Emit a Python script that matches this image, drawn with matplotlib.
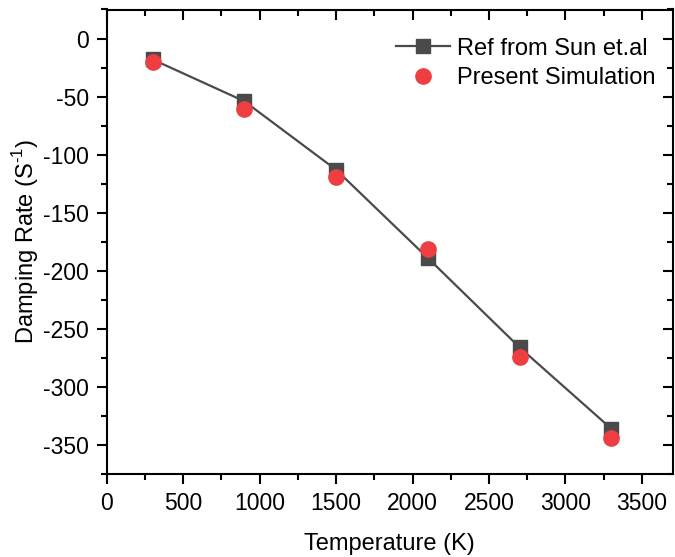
import matplotlib
matplotlib.use("Agg")
import matplotlib.pyplot as plt
from matplotlib.ticker import MultipleLocator

plt.rcParams['font.family'] = ['Liberation Sans', 'DejaVu Sans']
plt.rcParams['axes.unicode_minus'] = False
plt.rcParams['mathtext.fontset'] = 'custom'
plt.rcParams['mathtext.rm'] = 'Liberation Sans'

temperature = [300, 900, 1500, 2100, 2700, 3300]
ref_sun = [-18, -54, -113, -189, -266, -336]
present_sim = [-20, -61, -119, -181, -274, -344]

fig = plt.figure(figsize=(6.75, 5.57), dpi=100)
ax = fig.add_axes([106.7/675, 1-474/557, (672.5-106.7)/675, (474-9.5)/557])

ax.plot(temperature, ref_sun, color='#4a4a4a', lw=1.6, marker='s', ms=9.5,
        markerfacecolor='#4a4a4a', markeredgecolor='#4a4a4a', label='Ref from Sun et.al', zorder=2)
ax.plot(temperature, present_sim, ls='none', marker='o', ms=11,
        markerfacecolor='#ef3e42', markeredgecolor='#ef3e42', label='Present Simulation', zorder=3)

ax.set_xlim(0, 3700)
ax.set_ylim(-375, 25)
ax.xaxis.set_major_locator(MultipleLocator(500))
ax.xaxis.set_minor_locator(MultipleLocator(250))
ax.yaxis.set_major_locator(MultipleLocator(50))
ax.yaxis.set_minor_locator(MultipleLocator(25))

for s in ax.spines.values():
    s.set_linewidth(1.5)

ax.tick_params(which='both', labelsize=16.5, width=1.5, direction='out',
               top=True, right=True)
ax.tick_params(which='major', length=7)
ax.tick_params(which='minor', length=4)
ax.tick_params(axis='y', which='major', pad=6)
ax.tick_params(axis='x', which='major', pad=6)
# top/right ticks point inward
for t in ax.xaxis.get_major_ticks() + ax.xaxis.get_minor_ticks():
    t.tick2line.set_marker(matplotlib.lines.TICKDOWN)
for t in ax.yaxis.get_major_ticks() + ax.yaxis.get_minor_ticks():
    t.tick2line.set_marker(matplotlib.lines.TICKLEFT)

ax.set_xlabel('Temperature (K)', fontsize=17, labelpad=13)
ax.set_ylabel(r'Damping Rate (S$^{\text{-1}}$)', fontsize=17, labelpad=1)

ax.legend(loc='upper right', frameon=False, fontsize=17, handlelength=2.3,
          handletextpad=0.3, borderaxespad=0.3, labelspacing=0.32,
          bbox_to_anchor=(1.0, 0.975))

fig.savefig('out.png', dpi=100)
